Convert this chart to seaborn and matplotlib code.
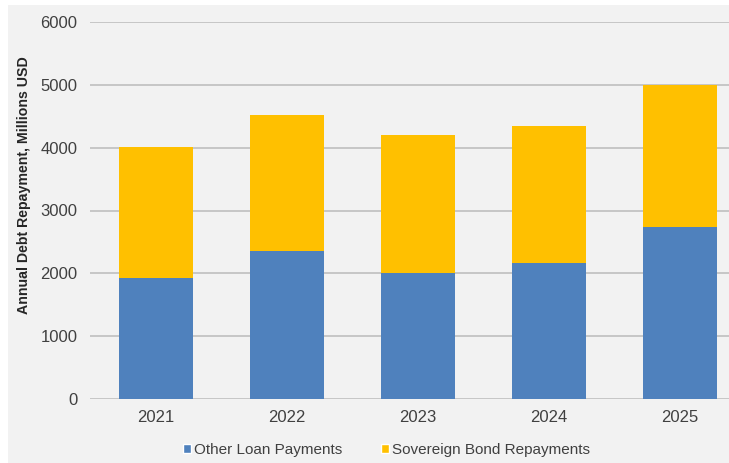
import pandas as pd
import matplotlib
matplotlib.use("Agg")
import matplotlib.pyplot as plt
import seaborn as sns
from matplotlib.patches import Patch, Rectangle

# Data (millions USD)
years = ['2021', '2022', '2023', '2024', '2025']
other_loans = [1930, 2350, 2000, 2160, 2730]
sovereign_bonds = [2080, 2170, 2200, 2190, 2270]

BLUE = '#4F81BD'
GOLD = '#FFC000'
TEXT = '#404040'
BG = '#F2F2F2'

sns.set_style("white")
plt.rcParams['font.family'] = ['Liberation Sans', 'DejaVu Sans']

df = pd.DataFrame({'Year': years, 'Other': other_loans, 'Bonds': sovereign_bonds})
df['Total'] = df['Other'] + df['Bonds']

fig = plt.figure(figsize=(7.29, 4.63), dpi=100)
fig.patch.set_facecolor('white')
fig.patches.append(Rectangle((8 / 729, 0), 1, 1 - 5 / 463, transform=fig.transFigure,
                             facecolor=BG, edgecolor='none', zorder=-10))

ax = fig.add_axes([90 / 729, 1 - 399 / 463, 1 - 90 / 729, (399 - 22) / 463])
ax.set_facecolor(BG)

# stacked bars: total first, then the lower segment drawn over it
sns.barplot(data=df, x='Year', y='Total', color=GOLD, width=0.565, saturation=1,
            linewidth=0, ax=ax, zorder=3)
sns.barplot(data=df, x='Year', y='Other', color=BLUE, width=0.565, saturation=1,
            linewidth=0, ax=ax, zorder=3)

ax.set_ylim(0, 6000)
ax.set_yticks(range(0, 6001, 1000))
ax.set_xlim(-0.504, 4.374)
ax.yaxis.grid(True, color='#BFBFBF', linewidth=1.2)
ax.set_axisbelow(True)
for s in ax.spines.values():
    s.set_visible(False)

ax.tick_params(axis='both', length=0, labelsize=12, labelcolor=TEXT)
ax.tick_params(axis='y', pad=9)
ax.tick_params(axis='x', pad=8)
ax.set_xlabel('')
ax.set_ylabel('Annual Debt Repayment, Millions USD', fontsize=10.2, fontweight='bold',
              color='#262626')
ax.yaxis.set_label_coords(-0.092, 0.568)

handles = [Patch(facecolor=BLUE, label='Other Loan Payments'),
           Patch(facecolor=GOLD, label='Sovereign Bond Repayments')]
fig.legend(handles=handles, loc='center', bbox_to_anchor=(0.53, 1 - 450 / 463), ncol=2,
           frameon=False, fontsize=11, handlelength=0.55, handleheight=0.55,
           handletextpad=0.2, columnspacing=2.5, labelcolor=TEXT)

fig.savefig('out.png', dpi=100, facecolor='white')
